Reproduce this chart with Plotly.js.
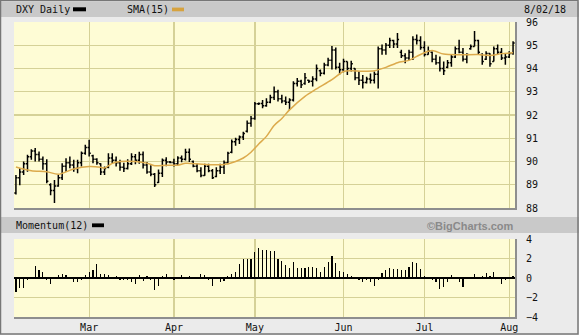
<!DOCTYPE html>
<html>
<head>
<meta charset="utf-8">
<script src="https://cdn.plot.ly/plotly-3.0.1.min.js"></script>
<style>html,body{margin:0;padding:0;background:#ebebeb;}#chart{width:579px;height:335px;}</style>
</head>
<body>
<div id="chart"></div>
<script>
// ---- trading calendar (every weekday, 2 Feb 2018 - 2 Aug 2018) ----
function weekdays(start, end) {
  var out = [], d = new Date(start + 'T00:00:00Z'), e = new Date(end + 'T00:00:00Z');
  while (d <= e) { var w = d.getUTCDay(); if (w !== 0 && w !== 6) out.push(d.toISOString().slice(0, 10)); d.setUTCDate(d.getUTCDate() + 1); }
  return out;
}
var dates = weekdays('2018-02-02', '2018-08-02');

// ---- DXY daily OHLC ----
var open = [88.65,89.30,89.55,89.90,90.20,90.45,90.30,90.10,89.90,89.00,88.75,88.95,89.30,89.80,89.95,89.85,89.70,89.95,90.35,90.60,
  90.25,90.10,89.90,89.55,89.75,90.15,90.05,89.95,89.75,89.70,89.90,90.20,90.05,90.30,89.85,89.55,89.45,89.10,89.50,90.05,
  89.98,89.96,89.90,90.15,90.10,90.40,90.00,89.80,89.60,89.40,89.80,89.60,89.35,89.60,89.75,89.95,90.40,90.85,90.95,91.05,
  91.30,91.65,91.85,92.48,92.50,92.40,92.55,92.75,93.00,92.70,92.60,92.55,92.65,93.35,93.45,93.35,93.50,93.45,93.55,93.90,
  93.80,94.15,94.35,94.80,94.05,93.95,94.30,94.00,94.00,93.60,93.50,93.40,93.55,93.50,93.75,94.85,94.80,95.00,95.20,95.05,
  94.70,94.55,94.45,94.70,95.25,95.20,94.90,94.60,94.70,94.40,94.25,94.00,94.05,94.25,94.50,94.85,94.70,94.40,94.85,94.95,
  95.20,94.60,94.40,94.65,94.30,94.85,94.70,94.45,94.50,94.65];
var high = [89.42,89.71,90.00,90.29,90.53,90.58,90.43,90.22,90.10,89.06,89.20,89.42,89.93,90.14,90.22,90.07,90.07,90.43,90.72,90.94,
  90.29,90.14,89.93,89.78,90.36,90.36,90.22,90.08,89.95,90.10,90.35,90.32,90.42,90.43,89.98,89.84,89.51,89.66,90.13,90.18,
  90.02,90.12,90.23,90.26,90.55,90.56,90.04,89.90,89.75,89.90,89.90,89.68,89.75,89.90,90.04,90.42,90.95,91.02,91.12,91.28,
  91.76,91.96,92.56,92.54,92.65,92.72,92.87,93.23,93.09,92.87,92.80,92.72,93.45,93.59,93.52,93.81,93.52,93.67,94.17,93.96,
  94.25,94.46,94.97,94.90,94.25,94.42,94.30,94.33,94.01,93.87,93.72,93.65,93.79,93.87,94.95,95.03,95.10,95.32,95.24,95.53,
  94.81,94.66,94.81,95.39,95.46,95.39,95.17,94.95,94.73,94.59,94.52,94.30,94.37,94.59,94.95,95.24,94.88,94.66,95.03,95.61,
  95.24,94.66,94.74,94.66,94.95,95.03,94.88,94.66,94.74,95.17];
var low = [88.58,88.98,89.42,89.56,90.07,90.00,90.00,89.64,89.06,88.55,88.22,88.91,89.20,89.56,89.71,89.56,89.49,89.78,90.29,90.22,
  89.93,89.86,89.42,89.42,89.71,89.93,89.78,89.60,89.55,89.66,89.85,89.88,89.90,89.70,89.47,89.37,88.90,89.08,89.33,89.80,
  89.92,89.78,89.85,89.97,90.04,89.98,89.75,89.54,89.32,89.39,89.54,89.25,89.32,89.46,89.46,89.88,90.35,90.68,90.75,90.92,
  91.25,91.50,91.80,92.43,92.29,92.36,92.51,92.65,92.58,92.51,92.43,92.22,92.58,93.23,93.16,93.30,93.38,93.23,93.45,93.67,
  93.74,94.10,93.96,93.96,93.74,93.84,93.72,93.87,93.50,93.29,93.14,93.36,93.36,93.36,93.14,94.59,94.59,94.88,94.88,94.88,
  94.45,94.23,94.37,94.37,95.03,94.81,94.52,94.59,94.27,94.16,93.87,93.72,94.01,94.08,94.45,94.66,94.30,94.23,94.81,94.95,
  94.59,94.16,94.37,94.08,94.30,94.59,94.37,94.16,94.45,94.59];
var close = [89.30,89.55,89.90,90.20,90.45,90.30,90.10,89.90,89.15,88.75,88.95,89.30,89.80,89.95,89.85,89.70,89.95,90.35,90.60,90.35,
  90.10,89.95,89.55,89.70,90.15,90.05,89.95,89.75,89.70,89.90,90.20,90.05,90.30,89.85,89.55,89.45,89.00,89.50,90.05,89.98,
  89.96,89.90,90.15,90.10,90.40,90.10,89.80,89.60,89.40,89.80,89.60,89.30,89.60,89.75,89.95,90.35,90.85,90.95,91.05,91.20,
  91.65,91.85,92.48,92.50,92.40,92.55,92.75,93.00,92.70,92.60,92.55,92.65,93.35,93.45,93.30,93.60,93.45,93.55,94.00,93.80,
  94.15,94.35,94.80,94.05,93.95,94.30,94.00,94.20,93.60,93.50,93.40,93.55,93.50,93.75,94.85,94.80,95.00,95.20,95.05,95.25,
  94.55,94.45,94.70,95.25,95.20,94.90,94.60,94.75,94.40,94.25,94.00,93.90,94.25,94.50,94.85,94.70,94.40,94.60,94.95,95.20,
  94.70,94.30,94.65,94.20,94.85,94.70,94.45,94.50,94.65,95.10];

// ---- SMA(15) (bar number, value) ----
var smaBar = [1,5,9,12,16,20,23,24,26,28,32,35,37,40,43,45,48,51,53,55,58,60,62,64,66,68,70,72,76,79,83,86,88,91,94,97,100,103,105,107,109,112,116,121,124,127,130];
var smaVal = [89.76,89.60,89.56,89.45,89.68,89.78,89.75,89.72,89.92,90.00,90.00,89.93,89.82,89.84,89.84,89.92,89.90,89.86,89.86,89.87,90.00,90.15,90.40,90.75,91.08,91.55,91.85,92.22,92.80,93.12,93.52,93.87,93.90,93.88,93.90,94.05,94.25,94.35,94.52,94.68,94.77,94.62,94.59,94.60,94.56,94.64,94.68];

// ---- Momentum(12) ----
var momentum = [-1.40,-0.98,-0.98,-0.18,0.05,1.23,0.77,0.60,-0.25,-0.60,0.05,0.35,0.46,0.35,0.05,-0.46,-0.46,-0.18,0.35,0.60,
  0.81,1.40,0.46,0.46,0.35,0.05,0.18,-0.25,-0.18,-0.25,-0.46,-0.60,0.35,-0.35,0.18,-0.25,-1.23,-0.81,0.18,0.46,
  0.05,-0.18,0.05,0.35,0.05,0.25,0.05,0.05,0.46,0.35,-0.18,-0.81,0.05,-0.46,-0.35,0.18,0.46,0.60,1.40,1.93,
  2.00,2.00,2.63,3.09,2.91,2.91,2.77,2.77,2.00,1.75,1.30,1.05,1.65,1.05,0.98,1.05,1.16,1.16,1.05,0.60,
  1.12,1.65,2.25,1.51,0.67,0.60,0.46,0.25,0.05,-0.25,-0.46,-0.25,-0.46,-0.81,-0.18,0.53,0.81,1.05,0.95,0.88,
  0.81,0.81,1.16,1.65,1.58,0.88,0.25,0.05,-0.18,-0.46,-1.12,-0.95,-0.46,0.35,0.05,-0.46,-0.88,0.05,0.05,0.46,
  -0.10,0.25,0.53,0.25,0.60,0.05,-0.60,-0.25,0.05,0.18];

// ---- axis labels ----
var monthTicks = ['2018-03-01','2018-04-02','2018-05-01','2018-06-01','2018-07-02','2018-08-01'];
var monthLabels = ['Mar','Apr','May','Jun','Jul','Aug'];
var priceTicks = [88,89,90,91,92,93,94,95,96];
var momTicks = [-4,-2,0,2,4];

// ---- geometry helpers (pixel -> paper) ----
var W = 579, H = 335, ML = 14, MR = 64, MT = 22, MB = 18;
var PW = W - ML - MR, PH = H - MT - MB;
function px(x) { return (x - ML) / PW; }
function py(y) { return (H - MB - y) / PH; }

var mono = 'DejaVu Sans Mono, monospace';
var gridC = '#d5d197';
var frameC = '#8e8e8e';
var yellow = '#fefcd5';

var traces = [
  {type: 'ohlc', x: dates, open: open, high: high, low: low, close: close,
   xaxis: 'x', yaxis: 'y', tickwidth: 0.42, hoverinfo: 'skip',
   increasing: {line: {color: '#000', width: 1.5}}, decreasing: {line: {color: '#000', width: 1.5}}},
  {type: 'scatter', mode: 'lines', x: smaBar.map(function (i) { return dates[i - 1]; }), y: smaVal,
   xaxis: 'x', yaxis: 'y', line: {color: '#dcaa4c', width: 1.5, shape: 'spline', smoothing: 0.8}, hoverinfo: 'skip'},
  {type: 'bar', x: dates, y: momentum, xaxis: 'x2', yaxis: 'y2', width: 0.3 * 86400000,
   marker: {color: '#000', line: {width: 0}}, hoverinfo: 'skip'}
];

var shapes = [
  // header bands
  {type: 'rect', xref: 'paper', yref: 'paper', x0: px(0), x1: px(579), y0: py(17), y1: py(2), fillcolor: '#c9c9c9', line: {width: 0}, layer: 'below'},
  {type: 'rect', xref: 'paper', yref: 'paper', x0: px(0), x1: px(579), y0: py(233), y1: py(217), fillcolor: '#c9c9c9', line: {width: 0}, layer: 'below'},
  // outer frame
  {type: 'rect', xref: 'paper', yref: 'paper', x0: px(0.5), x1: px(578), y0: py(334), y1: py(0.5), line: {color: '#777', width: 1.5}},
  // legend swatches
  {type: 'rect', xref: 'paper', yref: 'paper', x0: px(73), x1: px(86), y0: py(11.3), y1: py(7.3), fillcolor: '#000', line: {width: 0}},
  {type: 'rect', xref: 'paper', yref: 'paper', x0: px(172), x1: px(184), y0: py(11.3), y1: py(7.6), fillcolor: '#d6a23e', line: {width: 0}},
  {type: 'rect', xref: 'paper', yref: 'paper', x0: px(92), x1: px(104), y0: py(227.2), y1: py(223.4), fillcolor: '#000', line: {width: 0}}
];

var annotations = [
  {text: 'DXY Daily', x: px(15), y: py(9.5), xanchor: 'left', yanchor: 'middle'},
  {text: 'SMA(15)', x: px(126), y: py(9.5), xanchor: 'left', yanchor: 'middle'},
  {text: '8/02/18', x: px(523), y: py(9.5), xanchor: 'left', yanchor: 'middle'},
  {text: 'Momentum(12)', x: px(15), y: py(225.5), xanchor: 'left', yanchor: 'middle'},
  {text: '©BigCharts.com', x: px(515), y: py(225.5), xanchor: 'right', yanchor: 'middle',
   font: {family: 'Liberation Sans, Arial, sans-serif', size: 11, color: '#8a8a8a', weight: 'bold'}}
].map(function (a) {
  a.xref = 'paper'; a.yref = 'paper'; a.showarrow = false; a.borderpad = 0;
  if (!a.font) a.font = {family: mono, size: 10, color: '#111'};
  return a;
});

var xcommon = {
  type: 'date', range: ['2018-02-01 12:00', '2018-08-02 12:00'],
  rangebreaks: [{bounds: ['sat', 'mon']}],
  tickmode: 'array', tickvals: monthTicks, ticktext: monthLabels,
  showgrid: true, gridcolor: gridC, gridwidth: 1.3, zeroline: false,
  showline: true, linecolor: frameC, linewidth: 2, ticks: '', fixedrange: true,
  tickfont: {family: mono, size: 10, color: '#111'}
};

var layout = {
  width: W, height: H, margin: {l: ML, r: MR, t: MT, b: MB, pad: 0},
  paper_bgcolor: '#ebebeb', plot_bgcolor: yellow, showlegend: false,
  xaxis: Object.assign({}, xcommon, {anchor: 'y', showticklabels: false, rangeslider: {visible: false}}),
  xaxis2: Object.assign({}, xcommon, {anchor: 'y2', matches: 'x', showticklabels: true, rangeslider: {visible: false}}),
  yaxis: {domain: [py(208), 1], range: [88, 96], side: 'right', tickmode: 'array', tickvals: priceTicks,
    showgrid: true, gridcolor: gridC, gridwidth: 1.3, zeroline: false, showline: true, linecolor: frameC, linewidth: 2,
    ticks: '', ticklabelstandoff: 7, tickfont: {family: mono, size: 10, color: '#111'}, fixedrange: true},
  yaxis2: {domain: [0, py(239)], range: [-4, 4], side: 'right', tickmode: 'array', tickvals: momTicks,
    showgrid: true, gridcolor: gridC, gridwidth: 1.3, zeroline: true, zerolinecolor: '#000', zerolinewidth: 1.6,
    showline: true, linecolor: frameC, linewidth: 2,
    ticks: '', ticklabelstandoff: 7, tickfont: {family: mono, size: 10, color: '#111'}, fixedrange: true},
  shapes: shapes, annotations: annotations, bargap: 0
};

Plotly.newPlot('chart', traces, layout, {staticPlot: true, displayModeBar: false});
</script>
</body>
</html>
